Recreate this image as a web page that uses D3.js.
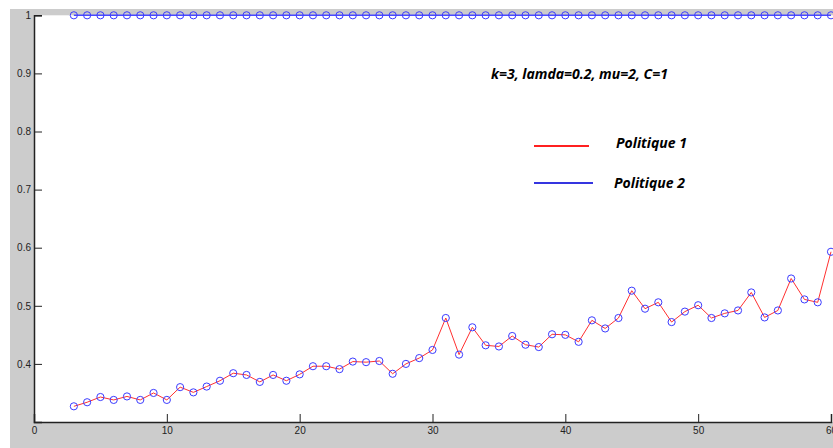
<!DOCTYPE html>
<html>
<head>
<meta charset="utf-8">
<script src="https://cdn.jsdelivr.net/npm/d3@7"></script>
<style>
  body { margin: 0; background: #fff; }
  svg { display: block; }
  .tick text { font-family: "Liberation Sans", Arial, sans-serif; font-size: 10px; fill: #222; }
  .note { font-family: "Open Sans", "Liberation Sans", sans-serif; font-style: italic; font-weight: bold; font-size: 14px; fill: #000; }
</style>
</head>
<body>
<svg></svg>
<script>
// x positions, 3..60
let xs = [3,4,5,6,7,8,9,10,11,12,13,14,15,16,17,18,19,20,21,22,23,24,25,26,27,28,29,30,31,
          32,33,34,35,36,37,38,39,40,41,42,43,44,45,46,47,48,49,50,51,52,53,54,55,56,57,58,59,60];

// Politique 1 (red line)
let politique1 = [0.327,0.334,0.343,0.338,0.344,0.338,0.350,0.338,0.360,0.351,0.361,0.371,0.384,0.381,
                  0.369,0.381,0.371,0.382,0.396,0.396,0.391,0.404,0.403,0.405,0.383,0.400,0.410,0.424,
                  0.479,0.416,0.463,0.432,0.430,0.448,0.433,0.429,0.451,0.450,0.438,0.475,0.461,0.479,
                  0.526,0.495,0.506,0.472,0.490,0.501,0.479,0.487,0.492,0.523,0.480,0.492,0.547,0.511,
                  0.506,0.593];

// Politique 2 (blue line), always 1
let politique2 = [1,1,1,1,1,1,1,1,1,1,1,1,1,1,1,1,1,1,1,1,1,1,1,1,1,1,1,1,1,
                  1,1,1,1,1,1,1,1,1,1,1,1,1,1,1,1,1,1,1,1,1,1,1,1,1,1,1,1,1];

let xTicks = [0,10,20,30,40,50,60];
let yTicks = [0.4,0.5,0.6,0.7,0.8,0.9,1];

let width = 833;
let height = 448;
let padLeft = 34, padRight = 831, padTop = 15.3, padBottom = 422;

let svg = d3.select("svg").attr("width", width).attr("height", height);

// grey figure background
svg.append("rect").attr("x", 10).attr("y", 9).attr("width", width - 10).attr("height", height - 9).attr("fill", "#cccccc");
// white axes area
svg.append("rect").attr("x", padLeft).attr("y", padTop).attr("width", width - padLeft).attr("height", padBottom - padTop).attr("fill", "#fff");

let xScale = d3.scaleLinear().domain([0, 60]).range([padLeft, padRight]);
let yScale = d3.scaleLinear().domain([0.3, 1]).range([padBottom, padTop]);

let xAxis = d3.axisBottom(xScale).tickValues(xTicks).tickSize(-8).tickPadding(5).tickFormat(d3.format("d"));
let yAxis = d3.axisLeft(yScale).tickValues(yTicks).tickSize(-8).tickPadding(3).tickFormat(d => d === 1 ? "1" : d3.format(".1f")(d));

let gx = svg.append("g").attr("transform", "translate(0," + padBottom + ")").call(xAxis);
let gy = svg.append("g").attr("transform", "translate(" + padLeft + ",0)").call(yAxis);
[gx, gy].forEach(g => {
  g.select(".domain").attr("stroke", "#222").attr("stroke-width", 1.5);
  g.selectAll(".tick line").attr("stroke", "#222");
});

let line = d3.line().x((d, i) => xScale(xs[i])).y(d => yScale(d));

svg.append("path").datum(politique1).attr("d", line)
   .attr("fill", "none").attr("stroke", "#ff3030").attr("stroke-width", 1);
svg.append("path").datum(politique2).attr("d", line)
   .attr("fill", "none").attr("stroke", "#4a4aff").attr("stroke-width", 1.5);

[politique1, politique2].forEach(series => {
  svg.append("g").selectAll("circle").data(series).enter().append("circle")
     .attr("cx", (d, i) => xScale(xs[i]))
     .attr("cy", d => yScale(d))
     .attr("r", 3.6)
     .attr("fill", "none")
     .attr("stroke", "#3b3bff")
     .attr("stroke-width", 1);
});

// annotation and legend
svg.append("text").attr("class", "note").attr("x", 491).attr("y", 79).text("k=3, lamda=0.2, mu=2, C=1");

svg.append("line").attr("x1", 534).attr("x2", 589).attr("y1", 146).attr("y2", 146).attr("stroke", "#ff2020").attr("stroke-width", 2);
svg.append("line").attr("x1", 534).attr("x2", 593).attr("y1", 183).attr("y2", 183).attr("stroke", "#3535e0").attr("stroke-width", 2);
svg.append("text").attr("class", "note").attr("x", 616).attr("y", 148).text("Politique 1");
svg.append("text").attr("class", "note").attr("x", 614).attr("y", 188).text("Politique 2");
</script>
</body>
</html>
